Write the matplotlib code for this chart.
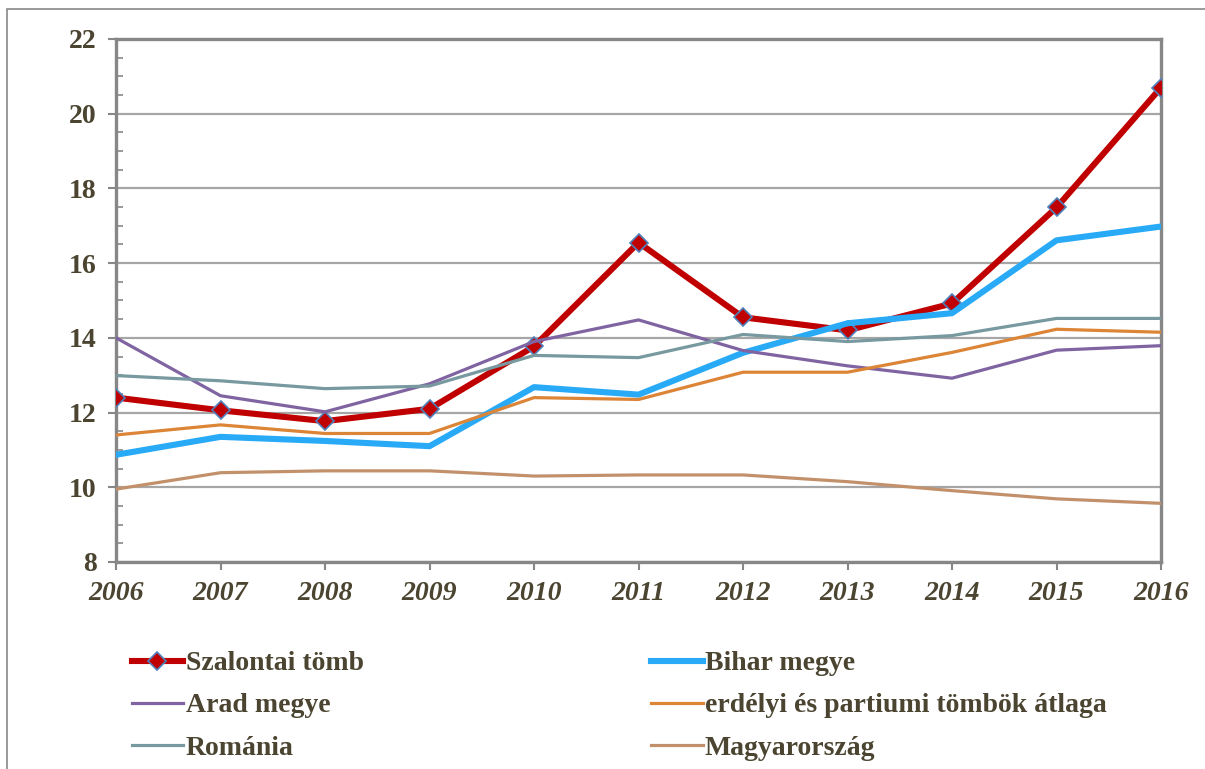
import matplotlib
matplotlib.use("Agg")
import matplotlib.pyplot as plt
from matplotlib.patches import Rectangle
from matplotlib.ticker import MultipleLocator

years = [2006, 2007, 2008, 2009, 2010, 2011, 2012, 2013, 2014, 2015, 2016]

szalontai = [12.40, 12.06, 11.77, 12.10, 13.77, 16.55, 14.55, 14.20, 14.92, 17.49, 20.70]
bihar     = [10.87, 11.35, 11.24, 11.10, 12.68, 12.48, 13.60, 14.39, 14.66, 16.61, 16.98]
arad      = [14.00, 12.45, 12.02, 12.77, 13.90, 14.48, 13.66, 13.25, 12.92, 13.67, 13.79]
erdelyi   = [11.40, 11.67, 11.44, 11.44, 12.40, 12.35, 13.08, 13.08, 13.61, 14.23, 14.15]
romania   = [12.99, 12.85, 12.64, 12.71, 13.53, 13.47, 14.09, 13.90, 14.06, 14.52, 14.52]
magyar    = [9.95, 10.39, 10.44, 10.44, 10.30, 10.33, 10.33, 10.15, 9.91, 9.69, 9.57]

labels = ["Szalontai tömb", "Bihar megye", "Arad megye",
          "erdélyi és partiumi tömbök átlaga", "Románia", "Magyarország"]

TXT = "#4a4430"
GRAY = "#878787"
SERIF = "Liberation Serif"

fig = plt.figure(figsize=(12.05, 7.69), dpi=100)
ax = fig.add_axes([0.0963, 0.2692, 0.8672, 0.6801])

h_sz, = ax.plot(years, szalontai, color="#c00000", lw=4.4, marker="D", ms=9.5,
                mfc="#c00000", mec="#4f81bd", mew=1.2, zorder=3, label=labels[0])
h_bi, = ax.plot(years, bihar, color="#29aaf7", lw=4.4, zorder=4, label=labels[1])
h_ar, = ax.plot(years, arad, color="#8064a2", lw=2.3, zorder=4, label=labels[2])
h_er, = ax.plot(years, erdelyi, color="#dd8537", lw=2.3, zorder=4, label=labels[3])
h_ro, = ax.plot(years, romania, color="#77999f", lw=2.3, zorder=4, label=labels[4])
h_ma, = ax.plot(years, magyar, color="#c2916b", lw=2.3, zorder=4, label=labels[5])

ax.set_xlim(2006, 2016)
ax.set_ylim(8, 22)
ax.set_xticks(years)
ax.set_xticklabels([str(y) for y in years], family=SERIF, fontsize=20,
                   fontweight="bold", fontstyle="italic", color=TXT)
yt = list(range(8, 23, 2))
ax.set_yticks(yt)
ax.set_yticklabels([str(v) for v in yt], family=SERIF, fontsize=20,
                   fontweight="bold", color=TXT)
ax.yaxis.set_minor_locator(MultipleLocator(0.5))
ax.grid(axis="y", color="#a6a6a6", lw=1.6, zorder=1)

for s in ax.spines.values():
    s.set_color(GRAY)
    s.set_linewidth(2.4)

ax.tick_params(axis="y", which="major", direction="out", length=6, width=1.5,
               color=GRAY, pad=8)
ax.tick_params(axis="y", which="minor", direction="in", length=5, width=1.2,
               color=GRAY)
ax.tick_params(axis="x", which="major", direction="out", length=6, width=1.5,
               color=GRAY, pad=8)

# legend: two columns, filled row by row like the original
handles = [h_sz, h_ar, h_ro, h_bi, h_er, h_ma]
leg = fig.legend(handles, [h.get_label() for h in handles], ncol=2,
                 loc="upper left", bbox_to_anchor=(0.100, 0.168),
                 frameon=False, handlelength=1.86, handletextpad=0.08,
                 columnspacing=10.35, labelspacing=0.6, borderaxespad=0,
                 prop={"family": SERIF, "weight": "bold", "size": 20})
for t in leg.get_texts():
    t.set_color(TXT)

# outer chart frame
fig.patches.append(Rectangle((7 / 1205, -0.1), 1.1, 1.1 - 9 / 769,
                             transform=fig.transFigure, fill=False,
                             ec=GRAY, lw=1.2))

fig.savefig("out.png", dpi=100)
